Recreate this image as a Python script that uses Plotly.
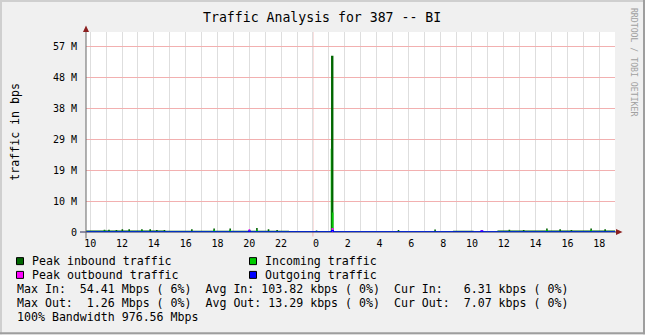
import plotly.graph_objects as go

# ---------------- data (time in hours from midnight of day 1, values in Mbps, 1024-based) -------------
peak_in_hour = [9.74, 10.85, 10.95, 11.13, 11.23, 11.60, 11.70, 11.97, 12.07, 12.40, 12.50, 13.20, 13.30,
                13.72, 13.82, 14.14, 14.24, 14.62, 14.72, 16.34, 16.44, 17.74, 17.84, 18.75, 18.85,
                19.96, 20.06, 20.43, 20.53, 21.16, 21.26, 21.70, 21.80, 22.50, 24.18, 24.28, 25.14,
                25.29, 29.33, 29.43, 31.63, 31.73, 32.80, 34.10, 34.56, 34.66, 35.60, 36.30, 36.40,
                37.20, 37.30, 38.66, 38.76, 39.49, 39.59, 40.20, 40.30, 41.44, 41.54, 42.32, 42.42, 43.0]
peak_in_mbps = [0.45, 0.70, 0.45, 0.70, 0.45, 0.65, 0.45, 0.85, 0.45, 0.85, 0.45, 0.85, 0.45,
                0.85, 0.45, 0.65, 0.45, 0.60, 0.40, 0.85, 0.40, 1.05, 0.40, 1.05, 0.40,
                0.70, 0.40, 1.20, 0.40, 0.85, 0.40, 0.60, 0.35, 0.20, 0.45, 0.20, 54.41,
                0.15, 0.65, 0.15, 0.80, 0.15, 0.40, 0.15, 0.45, 0.15, 0.45, 0.70, 0.45,
                0.65, 0.45, 1.05, 0.45, 0.85, 0.45, 0.65, 0.45, 1.05, 0.45, 0.85, 0.45, 0.45]

in_hour = [9.74, 10.85, 10.95, 13.20, 13.30, 17.74, 17.84, 18.75, 18.85, 20.43, 20.53, 22.50,
           25.12, 25.15, 25.20, 25.29, 35.60, 38.66, 38.76, 41.44, 41.54, 43.0]
in_mbps = [0.32, 0.50, 0.32, 0.50, 0.32, 0.60, 0.32, 0.60, 0.32, 0.60, 0.32, 0.12,
           25.7, 0.12, 6.0, 0.12, 0.32, 0.60, 0.32, 0.60, 0.32, 0.32]

peak_out_hour = [9.74, 19.96, 20.06, 25.17, 25.29, 34.56, 34.68, 43.0]
peak_out_mbps = [0.02, 0.85, 0.02, 1.26, 0.02, 0.60, 0.02, 0.02]

out_hour = [9.74, 19.96, 20.06, 25.17, 25.29, 34.56, 34.68, 43.0]
out_mbps = [0.02, 0.30, 0.02, 0.45, 0.02, 0.30, 0.02, 0.02]

x_tick_hours = [10, 12, 14, 16, 18, 20, 22, 24, 26, 28, 30, 32, 34, 36, 38, 40, 42]
x_tick_labels = ["10", "12", "14", "16", "18", "20", "22", "\u00a00", "\u00a02", "\u00a04", "\u00a06",
                 "\u00a08", "10", "12", "14", "16", "18"]
x_minor_hours = list(range(10, 43))
y_tick_bps = [0, 1e7, 2e7, 3e7, 4e7, 5e7, 6e7]
y_tick_labels = ["0", "10 M", "19 M", "29 M", "38 M", "48 M", "57 M"]

title = "Traffic Analysis for 387 -- BI"
y_title = "traffic in bps"
legend_rows = [
    ("Peak inbound traffic", "#006600", "Incoming traffic", "#00cc00"),
    ("Peak outbound traffic", "#ff00ff", "Outgoing traffic", "#0000ff"),
]
stats_lines = [
    "Max In:  54.41 Mbps ( 6%)  Avg In: 103.82 kbps ( 0%)  Cur In:   6.31 kbps ( 0%)",
    "Max Out:  1.26 Mbps ( 0%)  Avg Out: 13.29 kbps ( 0%)  Cur Out:  7.07 kbps ( 0%)",
    "100% Bandwidth 976.56 Mbps",
]

# ---------------- geometry ----------------
W, H = 645, 335
L, R, T, B = 86, 615, 32, 232.5
MONO = "DejaVu Sans Mono"
y_tick_vals = [v / 1048576 for v in y_tick_bps]
y_top = (B - T) / ((B - 46.7) / y_tick_vals[-1])


def px(x):
    return (x - L) / (R - L)


def py(y):
    return (B - y) / (B - T)


def nb(s):
    return s.replace(" ", "\u00a0")


fig = go.Figure()
fig.add_trace(go.Scatter(x=peak_in_hour, y=peak_in_mbps, mode="lines", line=dict(shape="hv", width=0, color="#006600"),
                         fill="tozeroy", fillcolor="#006600", hoverinfo="skip"))
fig.add_trace(go.Scatter(x=in_hour, y=in_mbps, mode="lines", line=dict(shape="hv", width=0, color="#00cc00"),
                         fill="tozeroy", fillcolor="#00cc00", hoverinfo="skip"))
fig.add_trace(go.Scatter(x=peak_out_hour, y=peak_out_mbps, mode="lines", line=dict(shape="hv", width=0, color="#ff00ff"),
                         fill="tozeroy", fillcolor="#ff00ff", hoverinfo="skip"))
fig.add_trace(go.Scatter(x=out_hour, y=out_mbps, mode="lines", line=dict(shape="hv", width=1.2, color="#0000ff"),
                         hoverinfo="skip"))

shapes = []
# midnight major grid line
shapes.append(dict(type="line", xref="x", yref="paper", x0=24, x1=24, y0=py(237), y1=1,
                   line=dict(color="#f2b0b0", width=1), layer="below"))
# axes
shapes.append(dict(type="line", xref="paper", yref="paper", x0=px(80), x1=px(617), y0=0, y1=0,
                   line=dict(color="#2a2a55", width=1.2), layer="below"))
shapes.append(dict(type="line", xref="paper", yref="paper", x0=0, x1=0, y0=py(239), y1=py(29),
                   line=dict(color="#666666", width=1), layer="above"))
# arrows
shapes.append(dict(type="path", xref="paper", yref="paper",
                   path=f"M {px(616)} {py(229.5)} L {px(622.5)} {py(232.5)} L {px(616)} {py(235.5)} Z",
                   fillcolor="#8b1f1f", line=dict(width=0)))
shapes.append(dict(type="path", xref="paper", yref="paper",
                   path=f"M {px(83)} {py(32)} L {px(86)} {py(25.5)} L {px(89)} {py(32)} Z",
                   fillcolor="#8b1f1f", line=dict(width=0)))
# frame shading
shapes.append(dict(type="line", xref="paper", yref="paper", x0=px(0), x1=px(645), y0=py(1), y1=py(1),
                   line=dict(color="#cfcfcf", width=2)))
shapes.append(dict(type="line", xref="paper", yref="paper", x0=px(1), x1=px(1), y0=py(0), y1=py(335),
                   line=dict(color="#cfcfcf", width=2)))
shapes.append(dict(type="line", xref="paper", yref="paper", x0=px(0), x1=px(645), y0=py(334), y1=py(334),
                   line=dict(color="#9e9e9e", width=2)))
shapes.append(dict(type="line", xref="paper", yref="paper", x0=px(644), x1=px(644), y0=py(0), y1=py(335),
                   line=dict(color="#9e9e9e", width=2)))

annotations = []
PAD = 1.5  # annotation inner padding compensation


def text(s, x, y, size, xanchor="left", angle=0, color="#000000"):
    xx = x - PAD if xanchor == "left" else x
    annotations.append(dict(text=nb(s), x=px(xx), y=py(y), xref="paper", yref="paper", showarrow=False,
                            xanchor=xanchor, yanchor="middle", textangle=angle,
                            font=dict(family=MONO, size=size, color=color)))


text(title, 322, 17, 13.2, xanchor="center")
text(y_title, 15, 132, 11.6, xanchor="center", angle=-90)
text("RRDTOOL / TOBI OETIKER", 634, 62, 8.2, xanchor="center", angle=90, color="#a0a0a0")

row_y = [261.7, 275.5, 289.5, 303.5, 317.5]
for i, (l1, c1, l2, c2) in enumerate(legend_rows):
    yc = row_y[i]
    for (lab, col, bx, tx) in ((l1, c1, 16.5, 31), (l2, c2, 249.5, 264)):
        shapes.append(dict(type="rect", xref="paper", yref="paper", x0=px(bx), x1=px(bx + 7),
                           y0=py(yc + 3.5), y1=py(yc - 3.5), fillcolor=col, line=dict(color="#000000", width=1)))
        text(lab, tx, yc, 11.6)
for i, s in enumerate(stats_lines):
    text(s, 16.5, row_y[2 + i], 11.6)

fig.update_layout(
    width=W, height=H, autosize=False,
    margin=dict(l=L, r=W - R, t=T, b=H - B, pad=0),
    paper_bgcolor="#f0f0f0", plot_bgcolor="#ffffff",
    showlegend=False,
    shapes=shapes, annotations=annotations,
    xaxis=dict(range=[9.736, 42.99], tickvals=x_tick_hours, ticktext=x_tick_labels,
               showgrid=True, gridcolor="#dedede", gridwidth=1, zeroline=False, showline=False,
               ticks="", tickfont=dict(family=MONO, size=10, color="#000000"), ticklabelstandoff=4,
               minor=dict(tickvals=x_minor_hours, showgrid=True, gridcolor="#dedede", gridwidth=1),
               fixedrange=True),
    yaxis=dict(range=[0, y_top], tickvals=y_tick_vals, ticktext=y_tick_labels,
               showgrid=True, gridcolor="#f2b0b0", gridwidth=1, zeroline=False, showline=False,
               ticks="", tickfont=dict(family=MONO, size=10, color="#000000"), ticklabelstandoff=8,
               fixedrange=True),
)

fig.write_html("out.html", config={"displayModeBar": False})
